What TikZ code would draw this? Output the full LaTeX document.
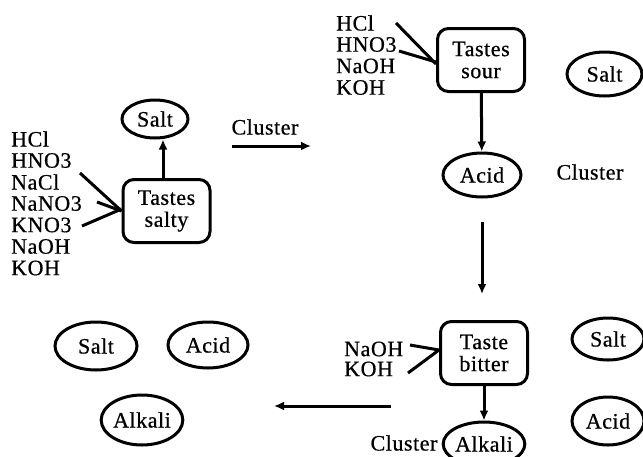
\documentclass[tikz,border=0pt]{standalone}
\usepackage{fontspec}
\setmainfont{Liberation Serif}[LetterSpace=2.5,FakeBold=0.6]
\usetikzlibrary{shapes.geometric,arrows.meta}
\begin{document}
\begin{tikzpicture}[x=1pt,y=-1pt,
  every node/.style={font=\fontsize{22}{22}\selectfont, inner sep=0pt},
  conn/.style={line width=3pt},
  arr/.style={line width=3pt, -{Latex[length=10pt,width=9pt]}},
  taste/.style={draw, line width=3pt, rounded corners=11pt, align=center,
    minimum width=87pt, minimum height=63pt},
  concept/.style={draw, ellipse, line width=3pt, minimum width=76pt, minimum height=44pt},
  item/.style={anchor=west}]
\useasboundingbox (0,0) rectangle (643,456);

% --- first stage: everything tastes salty
\node[taste] (salty) at (166.5,211) {Tastes\\salty};
\node[concept, minimum width=66pt, minimum height=38pt] (salt1) at (155,119) {Salt};
\draw[arr] (salty.north -| 163,0) -- (salt1.south -| 163,0);

\node[item] (l1) at (11,139) {HCl};
\node[item] (l2) at (11,160.5) {HNO3};
\node[item] (l3) at (11,182) {NaCl};
\node[item] (l4) at (11,203.5) {NaNO3};
\node[item] (l5) at (11,225) {KNO3};
\node[item] (l6) at (11,246.5) {NaOH};
\node[item] (l7) at (11,268) {KOH};
\coordinate (s1) at (80,173);
\coordinate (s2) at (97,202);
\coordinate (s3) at (82,226);
\draw[conn] (s1) -- (salty.west);
\draw[conn] (s2) -- (salty.west);
\draw[conn] (s3) -- ([yshift=2pt]salty.west);

\node (c1) at (265,127) {Cluster};
\coordinate (c1a) at (232,146);
\coordinate (c1b) at (311,146);
\draw[arr] (c1a) -- (c1b);

% --- second stage: sour
\node[taste] (sour) at (481,60) {Tastes\\sour};
\node[item] (m1) at (336,23) {HCl};
\node[item] (m2) at (336,44.5) {HNO3};
\node[item] (m3) at (336,66) {NaOH};
\node[item] (m4) at (336,87.5) {KOH};
\coordinate (t1) at (396,23);
\coordinate (t2) at (399,51);
\draw[conn] (t1) -- ([yshift=-4pt]sour.west);
\draw[conn] (t2) -- ([yshift=-2pt]sour.west);

\node[concept, minimum width=78pt] (acid1) at (482,175) {Acid};
\draw[arr] (sour) -- (acid1);
\node[concept, minimum width=75pt] (salt2) at (604.5,74) {Salt};
\node (c2) at (590,172) {Cluster};

\coordinate (d1) at (482,222);
\coordinate (d2) at (482,294);
\draw[arr] (d1) -- (d2);

% --- third stage: bitter
\node[taste] (bitter) at (484,353) {Taste\\bitter};
\node[item] (n1) at (344,349) {NaOH};
\node[item] (n2) at (344,369) {KOH};
\coordinate (b1) at (410,345);
\coordinate (b2) at (408,373);
\draw[conn] (b1) -- ([yshift=3pt]bitter.west);
\draw[conn] (b2) -- ([yshift=3pt]bitter.west);

\node[concept, minimum width=72pt] (alkali1) at (484,444) {Alkali};
\draw[arr] (bitter) -- (alkali1);
\node (c3) at (404,443) {Cluster};
\node[concept, minimum width=72pt, minimum height=42pt] (salt3) at (608,339) {Salt};
\node[concept, minimum width=72pt, minimum height=48pt] (acid2) at (608,421) {Acid};

\coordinate (e1) at (391,406);
\coordinate (e2) at (274,406);
\draw[arr] (e1) -- (e2);

% --- result: three clusters
\node[concept, minimum width=82pt, minimum height=48pt] (salt4) at (96,346) {Salt};
\node[concept, minimum width=80pt, minimum height=46pt] (acid3) at (208,345) {Acid};
\node[concept, minimum width=80pt, minimum height=50pt] (alkali2) at (142,420) {Alkali};
\end{tikzpicture}
\end{document}
